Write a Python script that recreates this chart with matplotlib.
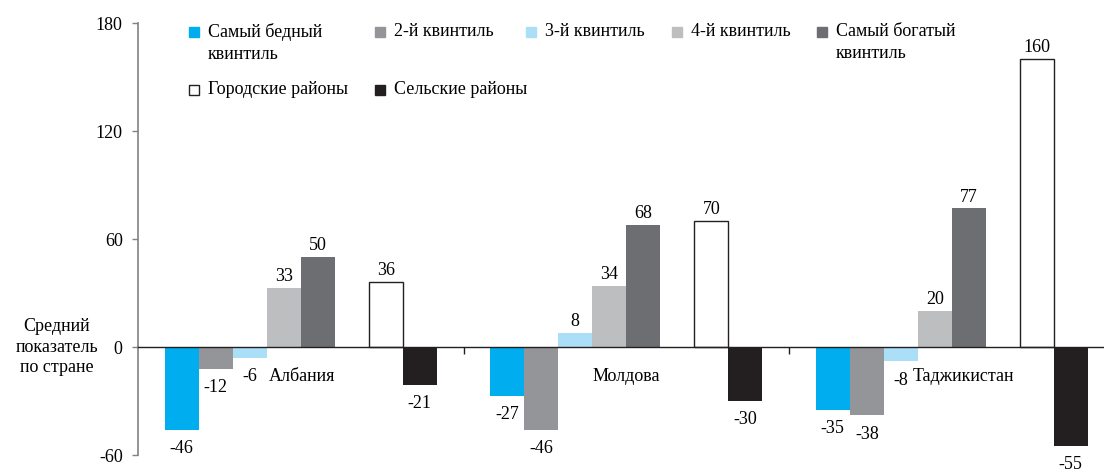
import matplotlib
matplotlib.use("Agg")
import matplotlib.pyplot as plt
from matplotlib.patches import Rectangle
import numpy as np

plt.rcParams["font.family"] = ["Liberation Serif", "DejaVu Serif"]
plt.rcParams["font.size"] = 13
plt.rcParams["axes.unicode_minus"] = False

# Данные
paises = ["Албания", "Молдова", "Таджикистан"]
series = [
    "Самый бедный\nквинтиль",
    "2-й квинтиль",
    "3-й квинтиль",
    "4-й квинтиль",
    "Самый богатый\nквинтиль",
    "Городские районы",
    "Сельские районы",
]
valores = [
    [-46, -27, -35],   # самый бедный
    [-12, -46, -38],   # 2-й
    [-6, 8, -8],       # 3-й
    [33, 34, 20],      # 4-й
    [50, 68, 77],      # самый богатый
    [36, 70, 160],     # городские
    [-21, -30, -55],   # сельские
]
colores = ["#00AEEF", "#939598", "#ABDFF8", "#BCBEC0", "#6D6E71", "white", "#231F20"]
huecos = [0, 1, 2, 3, 4, 6, 7]  # posicion dentro del grupo (la 5 queda vacia)
y_ticks = [-60, 0, 60, 120, 180]

W, H = 1104, 470
fig = plt.figure(figsize=(W / 100, H / 100), dpi=100)


def fx(px):
    return px / W


def fy(py):
    return 1 - py / H


ax = fig.add_axes([fx(138), fy(455), fx(W - 138), (455 - 23) / H])

ancho = 34 / 325.5
x = np.arange(len(paises))
for serie, vals, col, k in zip(series, valores, colores, huecos):
    pos = x + (k - 3.5) * ancho
    ec = "#231F20" if col == "white" else col
    ax.bar(pos, vals, width=ancho, color=col, edgecolor=ec,
           linewidth=1.0 if col == "white" else 0, zorder=2)
    for px_, v in zip(pos, vals):
        if v >= 0:
            ax.annotate(str(v), (px_, v), xytext=(0, 2), textcoords="offset points",
                        ha="center", va="bottom", annotation_clip=False)
        else:
            ax.annotate(str(v), (px_, v), xytext=(0, -7.5), textcoords="offset points",
                        ha="center", va="top", annotation_clip=False)

# nombres de paises sobre el eje
desplaz = [0.005, 0.0, 0.035]
for i, (p, d) in enumerate(zip(paises, desplaz)):
    ax.text(i + d, -16.5, p, ha="center", va="center")

ax.set_ylim(-60, 180)
ax.set_xlim(-0.5, -0.5 + (W - 138) / 325.5)
ax.set_yticks(y_ticks)
ax.set_xticks([0.5, 1.5])
ax.set_xticklabels([])
ax.tick_params(axis="y", direction="out", length=4, width=1, color="#808285", pad=7)
ax.tick_params(axis="x", direction="out", length=5, width=1, color="#231F20")

for s in ["top", "right"]:
    ax.spines[s].set_visible(False)
ax.spines["left"].set_color("#808285")
ax.spines["left"].set_linewidth(1.2)
ax.spines["bottom"].set_position(("data", 0))
ax.spines["bottom"].set_color("#231F20")
ax.spines["bottom"].set_linewidth(1.0)
ax.spines["bottom"].set_zorder(3)

fig.text(fx(57), fy(347), "Средний\nпоказатель\nпо стране",
         ha="center", va="center", multialignment="center", linespacing=1.3)

# leyenda manual
leyenda_pos = [(189, 27), (375, 27), (526, 27), (672, 27), (817, 27), (189, 85), (375, 85)]
for serie, col, (lx, ly) in zip(series, colores, leyenda_pos):
    ec = "#231F20" if col == "white" else col
    fig.patches.append(Rectangle((fx(lx), fy(ly + 10)), 10 / W, 10 / H,
                                 facecolor=col, edgecolor=ec, linewidth=1.0,
                                 transform=fig.transFigure, figure=fig))
    fig.text(fx(lx + 19), fy(ly - 4), serie, ha="left", va="top", linespacing=1.35)

fig.savefig("out.png", dpi=100)
